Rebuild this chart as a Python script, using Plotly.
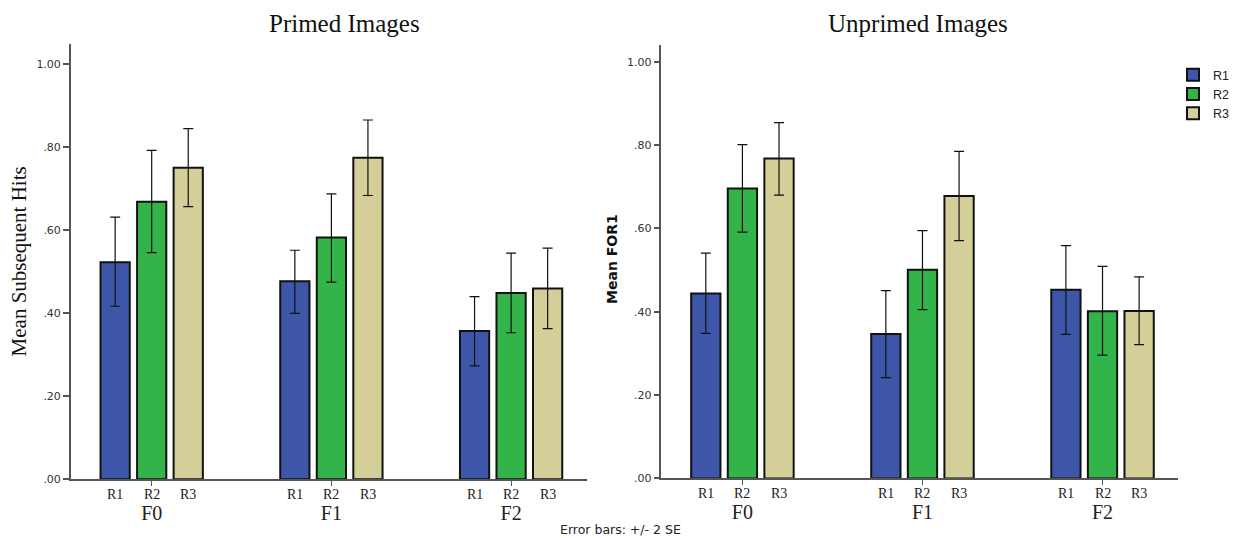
import plotly.graph_objects as go

W, H = 1235, 538          # reference picture size (pixel positions below are read from it)
FIG_H = 546               # figure height; the photograph comes out slightly squeezed vertically

groups = ["F0", "F1", "F2"]
series = ["R1", "R2", "R3"]
colors = {"R1": "#3E56A8", "R2": "#32B44A", "R3": "#D4CF98"}

# Primed Images: means and error-bar ends (+/- 2 SE)
primed_mean = {"R1": [0.523, 0.477, 0.357], "R2": [0.669, 0.583, 0.449], "R3": [0.751, 0.775, 0.460]}
primed_hi = {"R1": [0.632, 0.552, 0.440], "R2": [0.793, 0.688, 0.545], "R3": [0.845, 0.866, 0.557]}
primed_lo = {"R1": [0.417, 0.400, 0.273], "R2": [0.546, 0.475, 0.353], "R3": [0.657, 0.684, 0.363]}

# Unprimed Images
unprimed_mean = {"R1": [0.444, 0.347, 0.453], "R2": [0.696, 0.501, 0.401], "R3": [0.768, 0.678, 0.402]}
unprimed_hi = {"R1": [0.541, 0.451, 0.559], "R2": [0.801, 0.595, 0.509], "R3": [0.854, 0.785, 0.484]}
unprimed_lo = {"R1": [0.348, 0.242, 0.346], "R2": [0.591, 0.405, 0.296], "R3": [0.680, 0.571, 0.321]}

ytickvals = [0.0, 0.2, 0.4, 0.6, 0.8, 1.0]
yticktext = [".00", ".20", ".40", ".60", ".80", "1.00"]

BARGAP = 0.39
BARGROUPGAP = 0.2

def px_x(p):
    return p / W

def px_y(p):
    return 1 - p / H

fig = go.Figure()
gx = list(range(len(groups)))

for panel, (means, his, los, xa, ya) in enumerate([
        (primed_mean, primed_hi, primed_lo, "x", "y"),
        (unprimed_mean, unprimed_hi, unprimed_lo, "x2", "y2")]):
    for s in series:
        m = means[s]
        fig.add_trace(go.Bar(
            x=gx, y=m, name=s, xaxis=xa, yaxis=ya,
            marker=dict(color=colors[s], line=dict(color="#111111", width=2)),
            error_y=dict(type="data", symmetric=False,
                         array=[h - v for h, v in zip(his[s], m)],
                         arrayminus=[v - l for l, v in zip(los[s], m)],
                         color="#111111", thickness=1.2, width=5),
            showlegend=(panel == 1),
            legendgroup=s,
        ))

axis_line = dict(showline=True, linecolor="#555555", linewidth=1.5, showgrid=False, zeroline=False)
xcommon = dict(axis_line, range=[-0.45, 2.42], tickmode="array", tickvals=gx, ticktext=groups,
               ticks="outside", ticklen=5, tickcolor="#555555", tickwidth=1.2,
               tickfont=dict(family="Liberation Serif", size=20, color="#222222"),
               ticklabelstandoff=10)
ycommon = dict(axis_line, tickmode="array", tickvals=ytickvals, ticktext=yticktext,
               ticks="outside", ticklen=6, tickcolor="#555555", tickwidth=1.5,
               tickfont=dict(family="DejaVu Sans", size=11, color="#333333"))

fig.update_layout(
    width=W, height=FIG_H, margin=dict(l=0, r=0, t=0, b=0),
    paper_bgcolor="white", plot_bgcolor="white",
    barmode="group", bargap=BARGAP, bargroupgap=BARGROUPGAP,
    xaxis=dict(xcommon, domain=[px_x(71), px_x(588)], anchor="y"),
    yaxis=dict(ycommon, domain=[px_y(478.3), px_y(43.6)], range=[0, 1.05], anchor="x"),
    xaxis2=dict(xcommon, domain=[px_x(663), px_x(1181)], anchor="y2"),
    yaxis2=dict(ycommon, domain=[px_y(477.6), px_y(45)], range=[0, 1.04], anchor="x2"),
    legend=dict(x=px_x(1176), y=px_y(60), xanchor="left", yanchor="top",
                font=dict(family="Liberation Sans", size=12.5, color="#222222"),
                tracegroupgap=0, itemwidth=30, bgcolor="rgba(0,0,0,0)"),
)

annotations = []
pitch = (1 - BARGAP) / len(series)
for xa, ya in [("x", "y"), ("x2", "y2")]:
    for g in gx:
        for i, s in enumerate(series):
            annotations.append(dict(
                x=g + (i - 1) * pitch, y=0, xref=xa, yref=ya, text=s, showarrow=False,
                yanchor="top", yshift=-6,
                font=dict(family="Liberation Serif", size=14, color="#222222")))

annotations += [
    dict(x=px_x(345), y=px_y(23.5), xref="paper", yref="paper", text="Primed Images",
         showarrow=False, xanchor="center", yanchor="middle",
         font=dict(family="Liberation Serif", size=25, color="#111111")),
    dict(x=px_x(920), y=px_y(23.5), xref="paper", yref="paper", text="Unprimed Images",
         showarrow=False, xanchor="center", yanchor="middle",
         font=dict(family="Liberation Serif", size=25, color="#111111")),
    dict(x=px_x(20), y=px_y(261), xref="paper", yref="paper", text="Mean Subsequent Hits",
         showarrow=False, textangle=-90, xanchor="center", yanchor="middle",
         font=dict(family="Liberation Serif", size=21, color="#111111")),
    dict(x=px_x(614), y=px_y(259), xref="paper", yref="paper", text="<b>Mean FOR1</b>",
         showarrow=False, textangle=-90, xanchor="center", yanchor="middle",
         font=dict(family="DejaVu Sans", size=14, color="#111111")),
    dict(x=px_x(622), y=px_y(529), xref="paper", yref="paper", text="Error bars: +/- 2 SE",
         showarrow=False, xanchor="center", yanchor="middle",
         font=dict(family="DejaVu Sans", size=12.5, color="#222222")),
]
fig.update_layout(annotations=annotations)

fig.write_html(
    "out.html",
    config={"displayModeBar": False},
    post_script=("document.body.style.margin='0';"
                 "document.body.style.overflow='hidden';"
                 "document.documentElement.style.overflow='hidden';"),
)
